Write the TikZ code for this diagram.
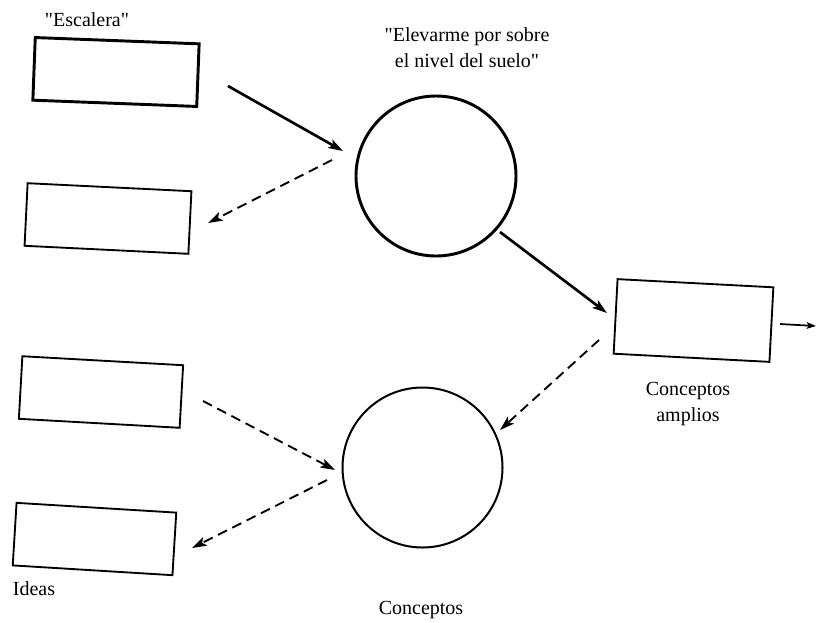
\documentclass[tikz,border=0pt]{standalone}
\usepackage{fontspec}
\setmainfont{Liberation Serif}[Ligatures=TeXOff]
\usetikzlibrary{arrows.meta}
\begin{document}
\begin{tikzpicture}[x=0.75pt,y=-0.75pt,
  box/.style={draw, line width=1.4pt, inner sep=0pt, minimum width=123pt, minimum height=47pt},
  heavybox/.style={box, line width=2.2pt},
  ring/.style={draw, circle, inner sep=0pt, minimum size=120pt},
  lbl/.style={font=\fontsize{15}{19.5}\selectfont, inner sep=0pt},
  tip/.style={-{Stealth[length=11pt,width=7pt,inset=2.5pt]}},
  solidarrow/.style={tip, line width=2pt},
  dasharrow/.style={tip, line width=1.4pt, dash pattern=on 7.5pt off 4.5pt},
  thinarrow/.style={-{Stealth[length=7pt,width=5pt,inset=1.5pt]}, line width=1.3pt}]

  % page
  \fill[white] (0,0) rectangle (816,622);
  \useasboundingbox (0,0) rectangle (816,622);

  % boxes
  \node[heavybox, rotate=-2.2] (escalera) at (116,72) {};
  \node[box, rotate=-2.8] (b2) at (108,218.5) {};
  \node[box, rotate=-3, minimum width=117pt, minimum height=56pt] (amplios) at (693.5,320.5) {};
  \node[box, rotate=-3.2, minimum width=120.75pt] (b4) at (101,392) {};
  \node[box, rotate=-3.5, minimum width=120pt] (ideas) at (94.5,539) {};

  % circles
  \node[ring, line width=2.2pt] (elevar) at (436,176) {};
  \node[ring, line width=1.5pt] (conceptos) at (422.5,467.5) {};

  % labels
  \node[lbl, anchor=base] (tEsc) at (87,26) {"Escalera"};
  \node[lbl, align=center] (tElev) at (467,48) {"Elevarme por sobre\\el nivel del suelo"};
  \node[lbl, align=center] (tAmp) at (688,404) {Conceptos\\amplios};
  \node[lbl, anchor=base] (tIdeas) at (34,595) {Ideas};
  \node[lbl, anchor=base] (tConc) at (421,614) {Conceptos};

  % arrow end points
  \coordinate (a1s) at (228,86);   \coordinate (a1e) at (343,151);
  \coordinate (a2s) at (332,160);  \coordinate (a2e) at (208,223);
  \coordinate (a3s) at (500,232);  \coordinate (a3e) at (607,313);
  \coordinate (a4s) at (599,340);  \coordinate (a4e) at (500,430);
  \coordinate (a5s) at (780,324);  \coordinate (a5e) at (816,326);
  \coordinate (a6s) at (203,401);  \coordinate (a6e) at (335,470);
  \coordinate (a7s) at (327,480);  \coordinate (a7e) at (192,548);

  % connectors
  \draw[solidarrow] (a1s) -- (a1e);
  \draw[dasharrow]  (a2s) -- (a2e);
  \draw[solidarrow] (a3s) -- (a3e);
  \draw[dasharrow]  (a4s) -- (a4e);
  \draw[thinarrow]  (a5s) -- (a5e);
  \draw[dasharrow]  (a6s) -- (a6e);
  \draw[dasharrow]  (a7s) -- (a7e);
\end{tikzpicture}
\end{document}
